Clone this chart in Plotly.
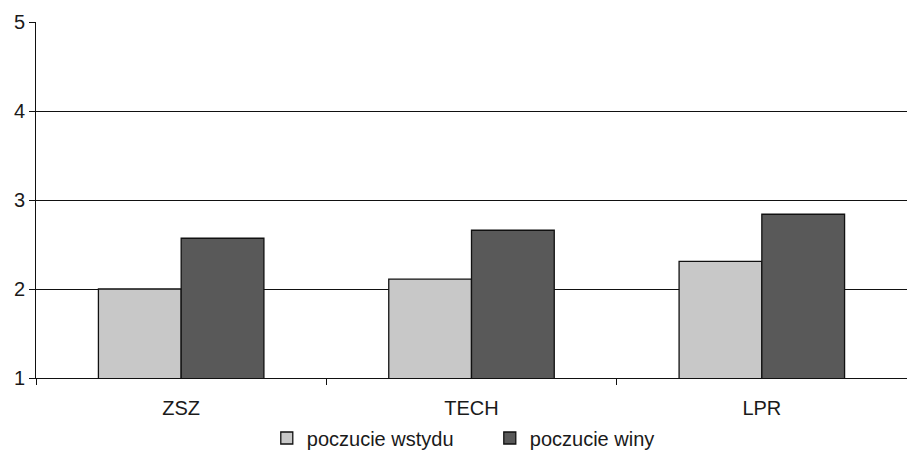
import plotly.graph_objects as go

categories = ["ZSZ", "TECH", "LPR"]
wstydu = [2.0, 2.11, 2.31]
winy = [2.57, 2.66, 2.84]
series_names = ["poczucie wstydu", "poczucie winy"]
y_ticks = [1, 2, 3, 4, 5]

FONT = dict(family="Liberation Sans, Arial, sans-serif", size=20, color="#1a1a1a")

fig = go.Figure()
fig.add_trace(go.Bar(
    x=categories, y=wstydu, name=series_names[0],
    marker=dict(color="#c8c8c8", line=dict(color="#111111", width=1.3)),
))
fig.add_trace(go.Bar(
    x=categories, y=winy, name=series_names[1],
    marker=dict(color="#595959", line=dict(color="#111111", width=1.3)),
))

fig.update_layout(
    width=907, height=452,
    margin=dict(l=36, r=0, t=22, b=74, autoexpand=False),
    paper_bgcolor="white", plot_bgcolor="white",
    font=FONT,
    barmode="group", bargap=0.43, bargroupgap=0,
    showlegend=True,
    legend=dict(
        orientation="h", x=0.521, xanchor="center",
        yref="container", y=0.031, yanchor="middle",
        font=dict(FONT, size=20), itemwidth=30, traceorder="normal",
        entrywidth=178,
    ),
)
fig.update_xaxes(
    showline=True, linecolor="#111111", linewidth=1,
    ticks="outside", tickson="boundaries", ticklen=6, tickcolor="#111111",
    ticklabelstandoff=12,
    showgrid=False, zeroline=False,
)
fig.update_yaxes(
    range=[1, 5], tickvals=y_ticks, ticktext=[str(v) for v in y_ticks],
    showline=True, linecolor="#111111", linewidth=1,
    ticks="outside", ticklen=6, tickcolor="#111111",
    showgrid=True, gridcolor="#111111", gridwidth=1, zeroline=False,
)

fig.write_html("out.html")
